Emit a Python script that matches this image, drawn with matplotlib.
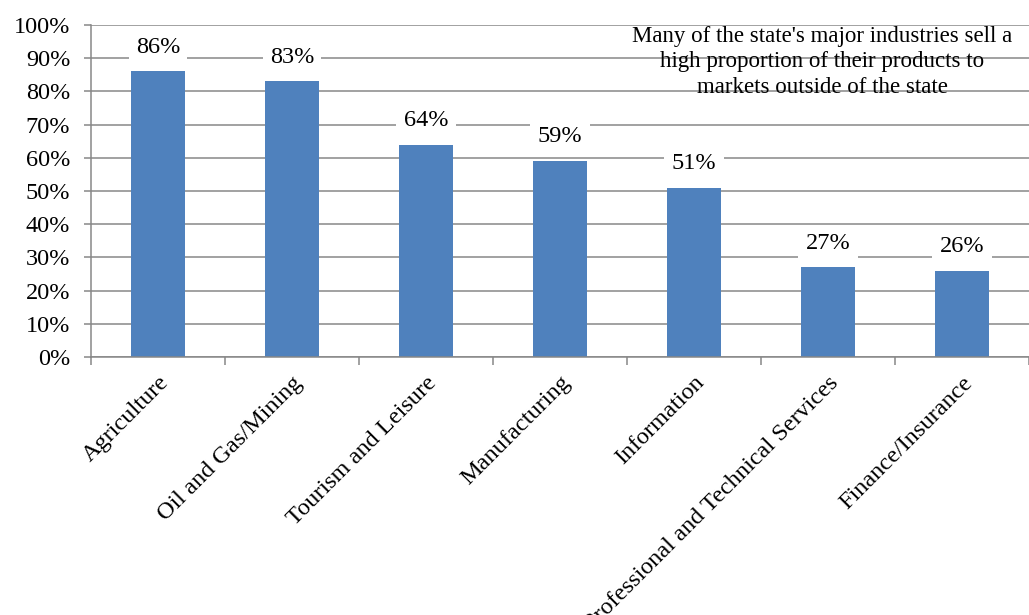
import matplotlib.pyplot as plt
import numpy as np
from matplotlib.ticker import FixedLocator, PercentFormatter

plt.rcParams["font.family"] = ["Liberation Serif", "DejaVu Serif"]

industries = [
    "Agriculture",
    "Oil and Gas/Mining",
    "Tourism and Leisure",
    "Manufacturing",
    "Information",
    "Professional and Technical Services",
    "Finance/Insurance",
]
share_outside = [86, 83, 64, 59, 51, 27, 26]

note = ("Many of the state's major industries sell a\n"
        "high proportion of their products to\n"
        "markets outside of the state")

bar_color = "#4F81BD"
grid_color = "#878787"

fig = plt.figure(figsize=(10.29, 6.15), dpi=100)
ax = fig.add_axes([91 / 1029, 1 - 357 / 615, 1 - 91 / 1029, 332 / 615])

x = np.arange(len(industries))
ax.bar(x, share_outside, width=0.4, color=bar_color, zorder=2)

for xi, v in zip(x, share_outside):
    ax.annotate(f"{v}%", (xi, v), xytext=(0, 17.5), textcoords="offset points",
                ha="center", va="center", fontsize=17.5, zorder=4,
                bbox=dict(boxstyle="square,pad=0.3", fc="white", ec="none"))

ax.set_ylim(0, 100)
ax.set_xlim(-0.5, -0.5 + (1029 - 91) / 135.7)
ax.yaxis.set_major_locator(FixedLocator(np.arange(0, 101, 10)))
ax.yaxis.set_major_formatter(PercentFormatter(decimals=0))
ax.grid(axis="y", color=grid_color, linewidth=1.1, zorder=0)
ax.set_axisbelow(True)

for side in ["top", "right"]:
    ax.spines[side].set_visible(False)
for side in ["left", "bottom"]:
    ax.spines[side].set_color(grid_color)
    ax.spines[side].set_linewidth(1.1)

ax.tick_params(axis="y", length=5, width=1.1, color=grid_color,
               labelsize=17.5, pad=10)
# category boundary ticks on the bottom axis
ax.set_xticks(np.arange(len(industries) + 1) - 0.5)
ax.set_xticklabels([])
ax.tick_params(axis="x", length=6, width=1.1, color=grid_color)
ax.set_xticks(x, minor=True)
ax.set_xticklabels(industries, minor=True, rotation=45, ha="right",
                   rotation_mode="anchor", fontsize=17.5)
ax.tick_params(axis="x", which="minor", length=0, pad=11)

fig.text(822 / 1029, 1 - 62 / 615, note, ha="center", va="center",
         fontsize=16.5, linespacing=1.3)

fig.savefig("out.png", dpi=100)
